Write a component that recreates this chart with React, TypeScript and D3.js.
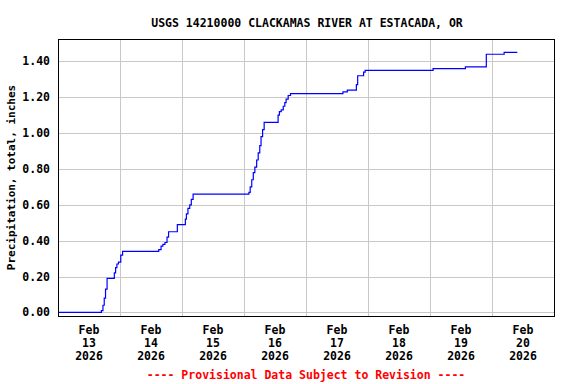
import React, { useEffect, useRef } from 'react';
import * as d3 from 'd3';

// cumulative precipitation, step-after points: hours since Feb 13 00:00 -> inches
const hours = [
  0, 16.8, 17.4, 17.9, 18.4, 19.0, 21.8, 22.3, 22.8, 23.4, 24.3, 25.0,
  39.0, 39.9, 40.6, 41.4, 42.2, 42.8, 46.2, 49.3, 49.7, 50.3, 51.0, 51.6, 52.3,
  73.9, 74.4, 75.0, 75.6, 76.2, 76.9, 77.5, 78.1, 78.6, 79.2, 79.8,
  85.2, 85.7, 86.4, 87.2, 87.8, 88.3, 89.1, 90.0,
  110.3, 112.0, 115.5, 116.0, 118.3, 118.9,
  145.2, 157.7, 165.8, 172.7, 177.8,
];
const precip = [
  0.0, 0.01, 0.04, 0.08, 0.13, 0.19, 0.22, 0.25, 0.27, 0.28, 0.32, 0.34,
  0.35, 0.37, 0.38, 0.39, 0.42, 0.45, 0.49, 0.52, 0.55, 0.58, 0.6, 0.63, 0.66,
  0.67, 0.7, 0.74, 0.78, 0.81, 0.85, 0.89, 0.93, 0.98, 1.02, 1.06,
  1.1, 1.12, 1.13, 1.15, 1.17, 1.19, 1.21, 1.22,
  1.23, 1.24, 1.27, 1.32, 1.34, 1.35,
  1.36, 1.37, 1.44, 1.45, 1.45,
];
const yTicks = [0, 0.2, 0.4, 0.6, 0.8, 1.0, 1.2, 1.4];
const dayLabels = ['13', '14', '15', '16', '17', '18', '19', '20'];

const title = 'USGS 14210000 CLACKAMAS RIVER AT ESTACADA, OR';
const yLabel = 'Precipitation, total, inches';
const footer = '---- Provisional Data Subject to Revision ----';

const start = new Date(2026, 1, 13);
const end = new Date(2026, 1, 21);

export default function App() {
  const root = useRef<SVGSVGElement>(null);

  useEffect(() => {
    const svg = d3.select(root.current);
    svg.selectAll('*').remove();

    const left = 58, right = 554, top = 39, bottom = 316;
    const font = "'DejaVu Sans Mono', monospace";

    const x = d3.scaleTime().domain([start, end]).range([left, right]);
    const y = d3.scaleLinear().domain([-0.02, 1.525]).range([bottom, top]);

    const g = svg.append('g');

    // grid
    const days = d3.timeDay.range(start, end).slice(1);
    g.selectAll('.vgrid').data(days).enter().append('line')
      .attr('x1', d => Math.round(x(d)) + 0.5).attr('x2', d => Math.round(x(d)) + 0.5)
      .attr('y1', top).attr('y2', bottom)
      .attr('stroke', '#c8c8c8').attr('shape-rendering', 'crispEdges');

    g.selectAll('.hgrid').data(yTicks).enter().append('line')
      .attr('x1', left).attr('x2', right)
      .attr('y1', d => Math.round(y(d)) + 0.5).attr('y2', d => Math.round(y(d)) + 0.5)
      .attr('stroke', '#c8c8c8').attr('shape-rendering', 'crispEdges');

    // data line
    const data = hours.map((h, i) => ({ t: d3.timeMinute.offset(start, Math.round(h * 60)), v: precip[i] }));
    const line = d3.line<{ t: Date; v: number }>()
      .x(d => x(d.t))
      .y(d => y(d.v))
      .curve(d3.curveStepAfter);

    g.append('path')
      .attr('d', line(data))
      .attr('fill', 'none')
      .attr('stroke', '#0000ff')
      .attr('stroke-width', 1.2);

    // frame
    g.append('rect')
      .attr('x', left + 0.5).attr('y', top + 0.5)
      .attr('width', right - left).attr('height', bottom - top)
      .attr('fill', 'none').attr('stroke', '#000').attr('stroke-width', 1.2)
      .attr('shape-rendering', 'crispEdges');

    // y tick labels
    g.selectAll('.ylab').data(yTicks).enter().append('text')
      .attr('x', 50).attr('y', d => y(d) + 4)
      .attr('text-anchor', 'end')
      .attr('font-family', font).attr('font-weight', 'bold').attr('font-size', 11.5)
      .text(d => d.toFixed(2));

    // x tick labels at noon
    const xl = g.selectAll('.xlab').data(dayLabels).enter().append('text')
      .attr('text-anchor', 'middle')
      .attr('font-family', font).attr('font-weight', 'bold').attr('font-size', 11.5);
    const noon = (i: number) => x(d3.timeHour.offset(start, i * 24 + 12));
    xl.append('tspan').attr('x', (d, i) => noon(i)).attr('y', 334).text('Feb');
    xl.append('tspan').attr('x', (d, i) => noon(i)).attr('y', 347).text(d => d);
    xl.append('tspan').attr('x', (d, i) => noon(i)).attr('y', 359.5).text('2026');

    // title
    svg.append('text')
      .attr('x', 307).attr('y', 26.5)
      .attr('text-anchor', 'middle')
      .attr('font-family', font).attr('font-weight', 'bold').attr('font-size', 11.5)
      .text(title);

    // y axis label
    svg.append('text')
      .attr('transform', `translate(15, 177.5) rotate(-90)`)
      .attr('text-anchor', 'middle')
      .attr('font-family', font).attr('font-weight', 'bold').attr('font-size', 11)
      .text(yLabel);

    // footer
    svg.append('text')
      .attr('x', 306).attr('y', 378.5)
      .attr('text-anchor', 'middle')
      .attr('fill', '#ff0000')
      .attr('font-family', font).attr('font-weight', 'bold').attr('font-size', 11.5)
      .text(footer);
  }, []);

  return (
    <svg
      ref={root}
      width={576}
      height={384}
      style={{ position: 'absolute', left: 0, top: 0, background: '#fff' }}
    />
  );
}
